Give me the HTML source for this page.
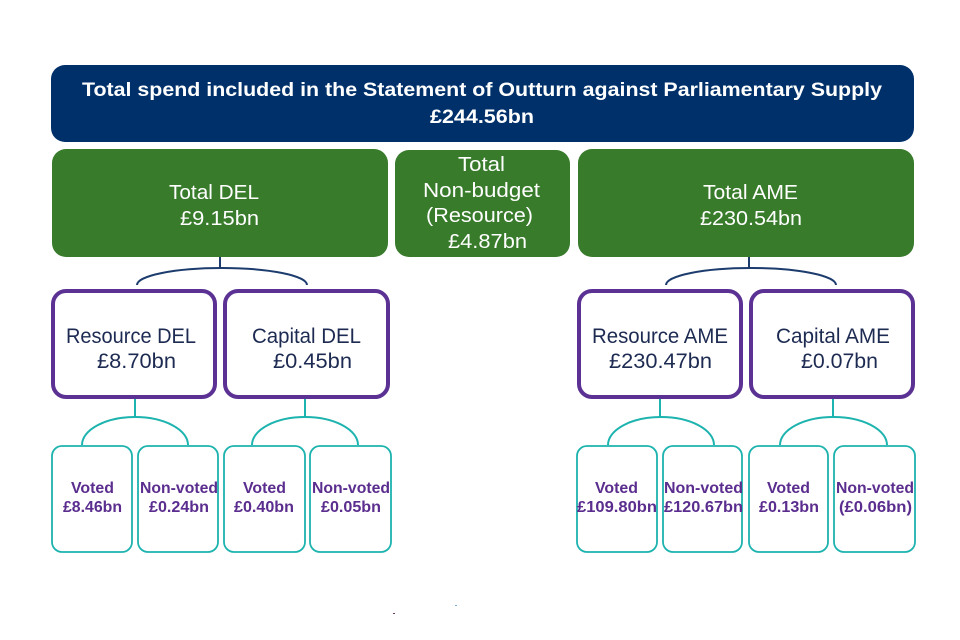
<!DOCTYPE html>
<html>
<head>
<meta charset="utf-8">
<style>
html,body{margin:0;padding:0;background:#fff;}
svg{display:block;}
text{font-family:"Liberation Sans",Arial,sans-serif;}
.w{fill:#fff;font-size:20px;}
.t{fill:#fff;font-size:19px;font-weight:bold;}
.p{fill:#1d2b52;font-size:21px;}
.v{fill:#5a2d8e;font-size:16px;font-weight:bold;}
</style>
</head>
<body>
<svg width="960" height="640" viewBox="0 0 960 640" xmlns="http://www.w3.org/2000/svg">
<rect width="960" height="640" fill="#fff"/>
<!-- Top navy -->
<rect x="51" y="65" width="863" height="77" rx="14" fill="#00306a"/>
<text class="t" x="82" y="96" textLength="800" lengthAdjust="spacingAndGlyphs">Total spend included in the Statement of Outturn against Parliamentary Supply</text>
<text class="t" x="430" y="123" textLength="104" lengthAdjust="spacingAndGlyphs">£244.56bn</text>

<!-- Green boxes -->
<rect x="52" y="149" width="336" height="108" rx="14" fill="#387b2b"/>
<rect x="395" y="150" width="175" height="107" rx="14" fill="#387b2b"/>
<rect x="578" y="149" width="336" height="108" rx="14" fill="#387b2b"/>

<text class="w" x="169" y="199" textLength="90" lengthAdjust="spacingAndGlyphs">Total DEL</text>
<text class="w" x="180" y="225" textLength="79" lengthAdjust="spacingAndGlyphs">£9.15bn</text>

<text class="w" x="458" y="171" textLength="47" lengthAdjust="spacingAndGlyphs">Total</text>
<text class="w" x="423" y="197" textLength="117" lengthAdjust="spacingAndGlyphs">Non-budget</text>
<text class="w" x="426" y="222" textLength="107" lengthAdjust="spacingAndGlyphs">(Resource)</text>
<text class="w" x="448" y="248" textLength="79" lengthAdjust="spacingAndGlyphs">£4.87bn</text>

<text class="w" x="703" y="199" textLength="95" lengthAdjust="spacingAndGlyphs">Total AME</text>
<text class="w" x="700" y="225" textLength="102" lengthAdjust="spacingAndGlyphs">£230.54bn</text>

<!-- Navy connectors -->
<g fill="none" stroke="#1c3c6e" stroke-width="2">
<line x1="220" y1="257" x2="220" y2="268"/>
<path d="M137,285 A85,17 0 0 1 307,285"/>
<line x1="749" y1="257" x2="749" y2="268"/>
<path d="M666,285 A85,17 0 0 1 836,285"/>
</g>

<!-- Purple boxes -->
<g fill="#fff" stroke="#5b3294" stroke-width="4">
<rect x="53" y="291" width="162" height="106" rx="13"/>
<rect x="225" y="291" width="163" height="106" rx="13"/>
<rect x="579" y="291" width="162" height="106" rx="13"/>
<rect x="751" y="291" width="162" height="106" rx="13"/>
</g>
<text class="p" x="66" y="343" textLength="130" lengthAdjust="spacingAndGlyphs">Resource DEL</text>
<text class="p" x="97" y="368" textLength="79" lengthAdjust="spacingAndGlyphs">£8.70bn</text>
<text class="p" x="252" y="343" textLength="109" lengthAdjust="spacingAndGlyphs">Capital DEL</text>
<text class="p" x="273" y="368" textLength="79" lengthAdjust="spacingAndGlyphs">£0.45bn</text>
<text class="p" x="592" y="343" textLength="136" lengthAdjust="spacingAndGlyphs">Resource AME</text>
<text class="p" x="609" y="368" textLength="103" lengthAdjust="spacingAndGlyphs">£230.47bn</text>
<text class="p" x="776" y="343" textLength="114" lengthAdjust="spacingAndGlyphs">Capital AME</text>
<text class="p" x="801" y="368" textLength="77" lengthAdjust="spacingAndGlyphs">£0.07bn</text>

<!-- Teal connectors -->
<g fill="none" stroke="#1db3ae" stroke-width="2">
<line x1="135" y1="399" x2="135" y2="417"/>
<path d="M82,445 A53,28 0 0 1 188,445"/>
<line x1="305" y1="399" x2="305" y2="417"/>
<path d="M252,445 A53,28 0 0 1 358,445"/>
<line x1="660" y1="399" x2="660" y2="417"/>
<path d="M608,445 A53,28 0 0 1 714,445"/>
<line x1="833" y1="399" x2="833" y2="417"/>
<path d="M780,445 A53.5,28 0 0 1 887,445"/>
</g>

<!-- Teal boxes -->
<g fill="#fff" stroke="#1db3ae" stroke-width="1.8">
<rect x="52" y="446" width="80" height="106" rx="10"/>
<rect x="138" y="446" width="80" height="106" rx="10"/>
<rect x="224" y="446" width="81" height="106" rx="10"/>
<rect x="310" y="446" width="81" height="106" rx="10"/>
<rect x="577" y="446" width="80" height="106" rx="10"/>
<rect x="663" y="446" width="79" height="106" rx="10"/>
<rect x="749" y="446" width="79" height="106" rx="10"/>
<rect x="834" y="446" width="81" height="106" rx="10"/>
</g>
<text class="v" x="71" y="493" textLength="43" lengthAdjust="spacingAndGlyphs">Voted</text>
<text class="v" x="63" y="512" textLength="59" lengthAdjust="spacingAndGlyphs">£8.46bn</text>
<text class="v" x="140" y="493" textLength="78" lengthAdjust="spacingAndGlyphs">Non-voted</text>
<text class="v" x="149" y="512" textLength="60" lengthAdjust="spacingAndGlyphs">£0.24bn</text>
<text class="v" x="243" y="493" textLength="43" lengthAdjust="spacingAndGlyphs">Voted</text>
<text class="v" x="234" y="512" textLength="60" lengthAdjust="spacingAndGlyphs">£0.40bn</text>
<text class="v" x="312" y="493" textLength="78" lengthAdjust="spacingAndGlyphs">Non-voted</text>
<text class="v" x="321" y="512" textLength="60" lengthAdjust="spacingAndGlyphs">£0.05bn</text>

<text class="v" x="595" y="493" textLength="43" lengthAdjust="spacingAndGlyphs">Voted</text>
<text class="v" x="577" y="512" textLength="80" lengthAdjust="spacingAndGlyphs">£109.80bn</text>
<text class="v" x="664" y="493" textLength="79" lengthAdjust="spacingAndGlyphs">Non-voted</text>
<text class="v" x="664" y="512" textLength="79" lengthAdjust="spacingAndGlyphs">£120.67bn</text>
<text class="v" x="767" y="493" textLength="43" lengthAdjust="spacingAndGlyphs">Voted</text>
<text class="v" x="759" y="512" textLength="60" lengthAdjust="spacingAndGlyphs">£0.13bn</text>
<text class="v" x="836" y="493" textLength="78" lengthAdjust="spacingAndGlyphs">Non-voted</text>
<text class="v" x="839" y="512" textLength="73" lengthAdjust="spacingAndGlyphs">(£0.06bn)</text>

<!-- tiny artifacts -->
<rect x="393" y="613" width="2" height="1" fill="#6a3a5a"/>
<rect x="455" y="605" width="2" height="1" fill="#7aa8d8"/>
</svg>
</body>
</html>
